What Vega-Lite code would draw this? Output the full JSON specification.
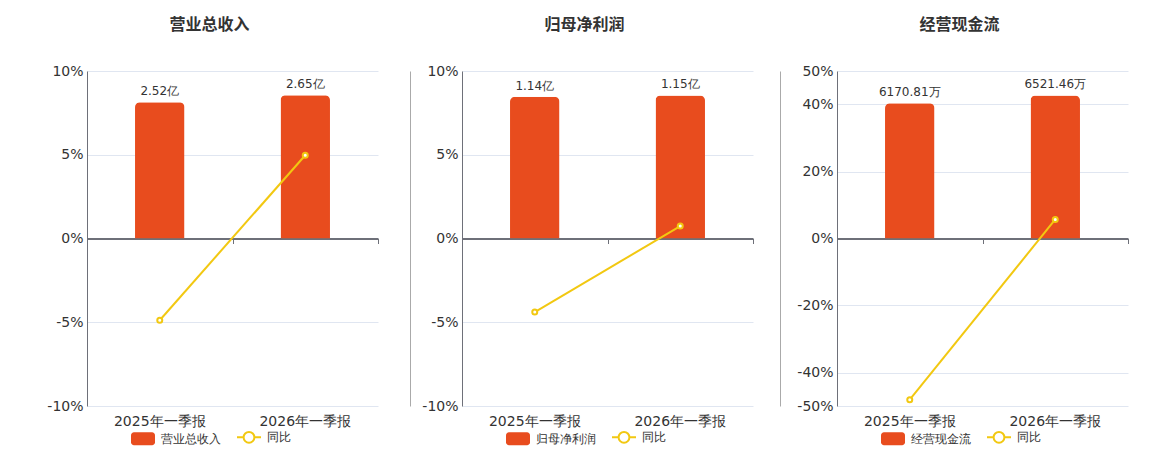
{
  "$schema": "https://vega.github.io/schema/vega-lite/v6.json",
  "padding": {"left": 46, "top": 17, "right": 5, "bottom": 5},
  "bounds": "flush",
  "spacing": 84,
  "config": {
    "font": "DejaVu Sans",
    "view": {"stroke": null},
    "title": {"fontSize": 16, "fontWeight": "bold", "color": "#333333", "font": "Noto Sans CJK SC", "anchor": "middle", "frame": "group", "offset": 31, "dx": -23},
    "axis": {"labelFontSize": 14, "labelColor": "#333333", "title": null, "ticks": false, "grid": false, "domain": false},
    "legend": {
      "orient": "none", "legendX": 50, "legendY": 360, "direction": "horizontal", "title": null, "padding": 0,
      "labelFontSize": 12, "labelColor": "#333333", "symbolSize": 576, "labelOffset": 12, "columnPadding": 12
    }
  },
  "resolve": {"scale": {"color": "independent"}},
  "hconcat": [
    {
      "title": {"text": "营业总收入"},
      "width": 291, "height": 335,
      "data": {"values": [
        {"period": "2025年一季报", "amount": 2.52, "label": "2.52亿", "yoy": -4.88},
        {"period": "2026年一季报", "amount": 2.65, "label": "2.65亿", "yoy": 4.97}
      ]},
      "encoding": {"x": {"field": "period", "type": "nominal", "sort": null, "scale": {"paddingInner": 0, "paddingOuter": 0}}},
      "layer": [
        {
          "encoding": {
            "x": {"field": "period", "type": "nominal", "sort": null, "axis": {"labelAngle": 0, "labelPadding": 8}},
            "y": {"field": "amount", "type": "quantitative", "scale": {"domain": [-3.1, 3.1], "nice": false, "zero": false},
                  "axis": {"orient": "right", "offset": 32, "labels": false, "domain": true, "domainColor": "#aaaaaa", "domainWidth": 1}}
          },
          "layer": [
            {"mark": {"type": "bar", "width": {"band": 0.34}, "cornerRadiusTopLeft": 5, "cornerRadiusTopRight": 5, "color": "#E84C1E"},
             "encoding": {"color": {"datum": "营业总收入", "scale": {"domain": ["营业总收入", "同比"], "range": ["#E84C1E", "#F2C811"]},
               "legend": {"encode": {"symbols": {"update": {
                 "shape": {"signal": "datum.label === '同比' ? 'M-1,0H-0.45M0.45,0H1M-0.45,0A0.45,0.45 0 1 1 0.45,0A0.45,0.45 0 1 1 -0.45,0Z' : 'M-0.75,-0.54H0.75A0.25,0.25 0 0 1 1,-0.29V0.29A0.25,0.25 0 0 1 0.75,0.54H-0.75A0.25,0.25 0 0 1 -1,0.29V-0.29A0.25,0.25 0 0 1 -0.75,-0.54Z'"},
                 "fill": {"signal": "datum.label === '同比' ? '#ffffff' : '#E84C1E'"},
                 "fillOpacity": {"signal": "datum.label === '同比' ? 0 : 1"},
                 "stroke": {"signal": "datum.label === '同比' ? '#F2C811' : '#E84C1E'"},
                 "strokeWidth": {"signal": "datum.label === '同比' ? 2 : 0"},
                 "opacity": {"value": 1}, "strokeOpacity": {"value": 1}
               }}}}}}},
            {"mark": {"type": "text", "dy": -4, "baseline": "bottom", "fontSize": 12, "color": "#333333"},
             "encoding": {"text": {"field": "label"}}}
          ]
        },
        {
          "encoding": {
            "x": {"field": "period", "type": "nominal", "sort": null,
                  "axis": {"orient": "bottom", "offset": -167.5, "labels": false, "domain": true, "domainColor": "#6E7079", "domainWidth": 2,
                           "ticks": true, "tickBand": "extent", "tickColor": "#6E7079", "tickSize": 5, "tickWidth": 1}},
            "y": {"field": "yoy", "type": "quantitative", "scale": {"domain": [-10, 10], "nice": false},
                  "axis": {"orient": "left", "values": [-10, -5, 0, 5, 10], "labelExpr": "datum.value + '%'", "labelPadding": 4,
                           "domain": true, "domainColor": "#6E7079", "grid": true, "gridColor": "#E0E6F1"}}
          },
          "layer": [
            {"mark": {"type": "line", "color": "#F2C811", "strokeWidth": 2},
             "encoding": {"color": {"datum": "同比"}}},
            {"mark": {"type": "point", "filled": true, "fill": "#ffffff", "stroke": "#F2C811", "strokeWidth": 2, "size": 25, "opacity": 1}}
          ]
        }
      ],
      "resolve": {"scale": {"y": "independent"}, "axis": {"y": "independent", "x": "independent"}}
    },
    {
      "title": {"text": "归母净利润"},
      "width": 291, "height": 335,
      "data": {"values": [
        {"period": "2025年一季报", "amount": 1.14, "label": "1.14亿", "yoy": -4.39},
        {"period": "2026年一季报", "amount": 1.15, "label": "1.15亿", "yoy": 0.74}
      ]},
      "encoding": {"x": {"field": "period", "type": "nominal", "sort": null, "scale": {"paddingInner": 0, "paddingOuter": 0}}},
      "layer": [
        {
          "encoding": {
            "x": {"field": "period", "type": "nominal", "sort": null, "axis": {"labelAngle": 0, "labelPadding": 8}},
            "y": {"field": "amount", "type": "quantitative", "scale": {"domain": [-1.347, 1.347], "nice": false, "zero": false},
                  "axis": {"orient": "right", "offset": 27, "labels": false, "domain": true, "domainColor": "#aaaaaa", "domainWidth": 1}}
          },
          "layer": [
            {"mark": {"type": "bar", "width": {"band": 0.34}, "cornerRadiusTopLeft": 5, "cornerRadiusTopRight": 5, "color": "#E84C1E"},
             "encoding": {"color": {"datum": "归母净利润", "scale": {"domain": ["归母净利润", "同比"], "range": ["#E84C1E", "#F2C811"]},
               "legend": {"encode": {"symbols": {"update": {
                 "shape": {"signal": "datum.label === '同比' ? 'M-1,0H-0.45M0.45,0H1M-0.45,0A0.45,0.45 0 1 1 0.45,0A0.45,0.45 0 1 1 -0.45,0Z' : 'M-0.75,-0.54H0.75A0.25,0.25 0 0 1 1,-0.29V0.29A0.25,0.25 0 0 1 0.75,0.54H-0.75A0.25,0.25 0 0 1 -1,0.29V-0.29A0.25,0.25 0 0 1 -0.75,-0.54Z'"},
                 "fill": {"signal": "datum.label === '同比' ? '#ffffff' : '#E84C1E'"},
                 "fillOpacity": {"signal": "datum.label === '同比' ? 0 : 1"},
                 "stroke": {"signal": "datum.label === '同比' ? '#F2C811' : '#E84C1E'"},
                 "strokeWidth": {"signal": "datum.label === '同比' ? 2 : 0"},
                 "opacity": {"value": 1}, "strokeOpacity": {"value": 1}
               }}}}}}},
            {"mark": {"type": "text", "dy": -4, "baseline": "bottom", "fontSize": 12, "color": "#333333"},
             "encoding": {"text": {"field": "label"}}}
          ]
        },
        {
          "encoding": {
            "x": {"field": "period", "type": "nominal", "sort": null,
                  "axis": {"orient": "bottom", "offset": -167.5, "labels": false, "domain": true, "domainColor": "#6E7079", "domainWidth": 2,
                           "ticks": true, "tickBand": "extent", "tickColor": "#6E7079", "tickSize": 5, "tickWidth": 1}},
            "y": {"field": "yoy", "type": "quantitative", "scale": {"domain": [-10, 10], "nice": false},
                  "axis": {"orient": "left", "values": [-10, -5, 0, 5, 10], "labelExpr": "datum.value + '%'", "labelPadding": 4,
                           "domain": true, "domainColor": "#6E7079", "grid": true, "gridColor": "#E0E6F1"}}
          },
          "layer": [
            {"mark": {"type": "line", "color": "#F2C811", "strokeWidth": 2},
             "encoding": {"color": {"datum": "同比"}}},
            {"mark": {"type": "point", "filled": true, "fill": "#ffffff", "stroke": "#F2C811", "strokeWidth": 2, "size": 25, "opacity": 1}}
          ]
        }
      ],
      "resolve": {"scale": {"y": "independent"}, "axis": {"y": "independent", "x": "independent"}}
    },
    {
      "title": {"text": "经营现金流"},
      "width": 291, "height": 335,
      "data": {"values": [
        {"period": "2025年一季报", "amount": 6170.81, "label": "6170.81万", "yoy": -48.1},
        {"period": "2026年一季报", "amount": 6521.46, "label": "6521.46万", "yoy": 5.68}
      ]},
      "encoding": {"x": {"field": "period", "type": "nominal", "sort": null, "scale": {"paddingInner": 0, "paddingOuter": 0}}},
      "layer": [
        {
          "encoding": {
            "x": {"field": "period", "type": "nominal", "sort": null, "axis": {"labelAngle": 0, "labelPadding": 8}},
            "y": {"field": "amount", "type": "quantitative", "scale": {"domain": [-7637, 7637], "nice": false, "zero": false}, "axis": null}
          },
          "layer": [
            {"mark": {"type": "bar", "width": {"band": 0.34}, "cornerRadiusTopLeft": 5, "cornerRadiusTopRight": 5, "color": "#E84C1E"},
             "encoding": {"color": {"datum": "经营现金流", "scale": {"domain": ["经营现金流", "同比"], "range": ["#E84C1E", "#F2C811"]},
               "legend": {"encode": {"symbols": {"update": {
                 "shape": {"signal": "datum.label === '同比' ? 'M-1,0H-0.45M0.45,0H1M-0.45,0A0.45,0.45 0 1 1 0.45,0A0.45,0.45 0 1 1 -0.45,0Z' : 'M-0.75,-0.54H0.75A0.25,0.25 0 0 1 1,-0.29V0.29A0.25,0.25 0 0 1 0.75,0.54H-0.75A0.25,0.25 0 0 1 -1,0.29V-0.29A0.25,0.25 0 0 1 -0.75,-0.54Z'"},
                 "fill": {"signal": "datum.label === '同比' ? '#ffffff' : '#E84C1E'"},
                 "fillOpacity": {"signal": "datum.label === '同比' ? 0 : 1"},
                 "stroke": {"signal": "datum.label === '同比' ? '#F2C811' : '#E84C1E'"},
                 "strokeWidth": {"signal": "datum.label === '同比' ? 2 : 0"},
                 "opacity": {"value": 1}, "strokeOpacity": {"value": 1}
               }}}}}}},
            {"mark": {"type": "text", "dy": -4, "baseline": "bottom", "fontSize": 12, "color": "#333333"},
             "encoding": {"text": {"field": "label"}}}
          ]
        },
        {
          "encoding": {
            "x": {"field": "period", "type": "nominal", "sort": null,
                  "axis": {"orient": "bottom", "offset": -167.5, "labels": false, "domain": true, "domainColor": "#6E7079", "domainWidth": 2,
                           "ticks": true, "tickBand": "extent", "tickColor": "#6E7079", "tickSize": 5, "tickWidth": 1}},
            "y": {"field": "yoy", "type": "quantitative", "scale": {"domain": [-50, 50], "nice": false},
                  "axis": {"orient": "left", "values": [-50, -40, -20, 0, 20, 40, 50], "labelExpr": "datum.value + '%'", "labelPadding": 4,
                           "domain": true, "domainColor": "#6E7079", "grid": true, "gridColor": "#E0E6F1"}}
          },
          "layer": [
            {"mark": {"type": "line", "color": "#F2C811", "strokeWidth": 2},
             "encoding": {"color": {"datum": "同比"}}},
            {"mark": {"type": "point", "filled": true, "fill": "#ffffff", "stroke": "#F2C811", "strokeWidth": 2, "size": 25, "opacity": 1}}
          ]
        }
      ],
      "resolve": {"scale": {"y": "independent"}, "axis": {"y": "independent", "x": "independent"}}
    }
  ]
}
